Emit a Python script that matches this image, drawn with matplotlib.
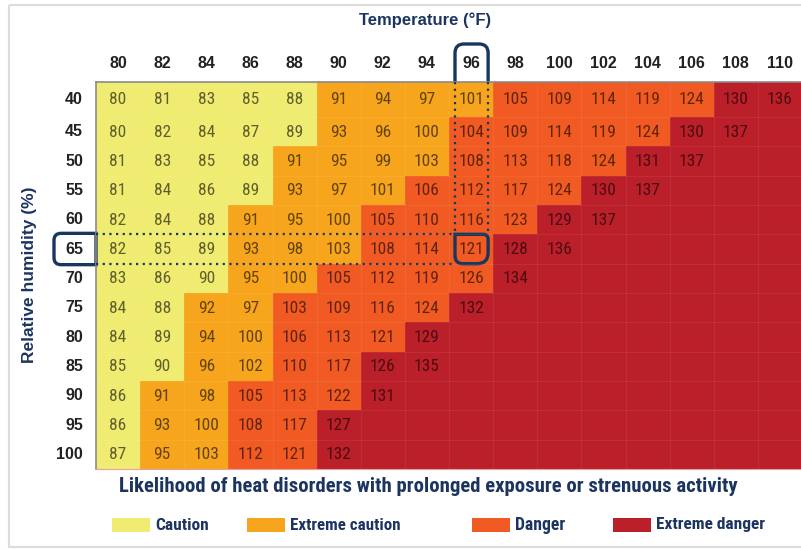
import numpy as np
import matplotlib.pyplot as plt
from matplotlib.patches import Rectangle, PathPatch
from matplotlib.path import Path
from matplotlib import font_manager

# heat index table (deg F)
temps = [80, 82, 84, 86, 88, 90, 92, 94, 96, 98, 100, 102, 104, 106, 108, 110]
humidity = [40, 45, 50, 55, 60, 65, 70, 75, 80, 85, 90, 95, 100]
heat_index = [
    [80, 81, 83, 85, 88, 91, 94, 97, 101, 105, 109, 114, 119, 124, 130, 136],
    [80, 82, 84, 87, 89, 93, 96, 100, 104, 109, 114, 119, 124, 130, 137],
    [81, 83, 85, 88, 91, 95, 99, 103, 108, 113, 118, 124, 131, 137],
    [81, 84, 86, 89, 93, 97, 101, 106, 112, 117, 124, 130, 137],
    [82, 84, 88, 91, 95, 100, 105, 110, 116, 123, 129, 137],
    [82, 85, 89, 93, 98, 103, 108, 114, 121, 128, 136],
    [83, 86, 90, 95, 100, 105, 112, 119, 126, 134],
    [84, 88, 92, 97, 103, 109, 116, 124, 132],
    [84, 89, 94, 100, 106, 113, 121, 129],
    [85, 90, 96, 102, 110, 117, 126, 135],
    [86, 91, 98, 105, 113, 122, 131],
    [86, 93, 100, 108, 117, 127],
    [87, 95, 103, 112, 121, 132],
]
# first column of each band, per humidity row
ext_caution_from = [5, 5, 4, 4, 3, 3, 3, 2, 2, 2, 1, 1, 1]
danger_from = [9, 8, 8, 7, 6, 6, 5, 4, 4, 4, 3, 3, 3]
ext_danger_from = [14, 13, 12, 11, 10, 9, 9, 8, 7, 6, 6, 5, 5]

levels = ['Caution', 'Extreme caution', 'Danger', 'Extreme danger']
level_colors = ['#F0EC72', '#F8A51E', '#F15A22', '#BB1F29']

highlight_temp = 96
highlight_rh = 65

navy = '#17375E'
title_col = '#1C3560'

installed = {f.name for f in font_manager.fontManager.ttflist}
cond = next((f for f in ['Roboto Condensed', 'Liberation Sans Narrow',
                         'Open Sans Condensed', 'Noto Sans Condensed']
             if f in installed), 'Roboto')
sans = ['Liberation Sans', 'DejaVu Sans']

W, H = 801, 550
fig = plt.figure(figsize=(W / 100, H / 100), dpi=100)
ax = fig.add_axes([0, 0, 1, 1])
ax.set_xlim(0, W)
ax.set_ylim(H, 0)
ax.axis('off')
renderer = fig.canvas.get_renderer()


def fit(t, width):
    # shrink/grow a text so it spans `width` pixels
    w = t.get_window_extent(renderer).width
    t.set_fontsize(t.get_fontsize() * width / w)


# grid geometry (pixels)
gx0, gx1 = 96, 802
cw = (gx1 - gx0) / len(temps)
gy0, first_bottom, gy1 = 82, 117, 469
rh_ = (gy1 - first_bottom) / (len(humidity) - 1)
row_edges = [gy0] + [first_bottom + k * rh_ for k in range(len(humidity))]


def band(i, j):
    if j >= ext_danger_from[i]:
        return 3
    if j >= danger_from[i]:
        return 2
    if j >= ext_caution_from[i]:
        return 1
    return 0


# outer frame
ax.add_patch(Rectangle((9, 5), 820, 542, fill=False, ec='#dddddd', lw=1.6))

for i, rh in enumerate(humidity):
    ytop, ybot = row_edges[i], row_edges[i + 1]
    for j, t in enumerate(temps):
        x = gx0 + j * cw
        ax.add_patch(Rectangle((x, ytop), cw, ybot - ytop,
                               fc=level_colors[band(i, j)], ec='none'))
        if j < len(heat_index[i]):
            ax.text(x + cw / 2, (ytop + ybot) / 2 + 0.5, str(heat_index[i][j]),
                    ha='center', va='center', fontsize=12.5, family=cond,
                    fontweight='normal', color='black', alpha=0.6)
    ax.text(83, (ytop + ybot) / 2, str(rh), ha='right', va='center',
            fontsize=11.5, fontweight='bold', family=sans, color='#222222')

for j, t in enumerate(temps):
    ax.text(gx0 + (j + 0.5) * cw, 64, str(t), ha='center', va='center',
            fontsize=11.5, fontweight='bold', family=sans, color='#222222')

# faint cell separators
for j in range(1, len(temps)):
    ax.plot([gx0 + j * cw] * 2, [gy0, gy1], color='white', lw=0.5, alpha=0.1)
for e in row_edges[1:-1]:
    ax.plot([gx0, gx1], [e, e], color='white', lw=0.5, alpha=0.1)

ax.plot([gx0, gx1], [gy0, gy0], color='#8a8a8a', lw=1.2)
ax.plot([gx0, gx0], [gy0, gy1], color='#8a8a8a', lw=1.2)
ax.plot([gx0, gx1], [gy1, gy1], color='#e8a0a0', lw=0.8)

# titles
ax.text(425, 20, 'Temperature (°F)', ha='center', va='center', fontsize=12,
        fontweight='bold', family=sans, color=title_col)
ax.text(30, 275, 'Relative humidity (%)', ha='center', va='center', fontsize=12.5,
        fontweight='bold', family=sans, color=title_col, rotation=90)
cap = ax.text(428, 487,
              'Likelihood of heat disorders with prolonged exposure or strenuous activity',
              ha='center', va='center', fontsize=13, fontweight='bold', family=cond,
              color=title_col)
fit(cap, 615)


def rpath(x0, y0, x1, y1, r, closed=True):
    # r = (top-left, top-right, bottom-right, bottom-left)
    tl, tr, br, bl = r
    v = [(x0, y1 - bl), (x0, y0 + tl), (x0, y0), (x0 + tl, y0),
         (x1 - tr, y0), (x1, y0), (x1, y0 + tr),
         (x1, y1 - br), (x1, y1), (x1 - br, y1),
         (x0 + bl, y1), (x0, y1), (x0, y1 - bl)]
    c = [Path.MOVETO, Path.LINETO, Path.CURVE3, Path.CURVE3,
         Path.LINETO, Path.CURVE3, Path.CURVE3,
         Path.LINETO, Path.CURVE3, Path.CURVE3,
         Path.LINETO, Path.CURVE3, Path.CURVE3]
    if not closed:
        v = [(x0, y1)] + v[1:7] + [(x1, y1)]
        c = c[:7] + [Path.LINETO]
    return Path(v, c)


# highlight of one reading
hj = temps.index(highlight_temp)
hi = humidity.index(highlight_rh)
hx0 = gx0 + hj * cw + 6
hx1 = gx0 + (hj + 1) * cw - 5
hy0, hy1 = row_edges[hi], row_edges[hi + 1]
dot = dict(color=navy, lw=1.6, ls=(0, (1, 2)))
ax.plot([hx0, hx0], [gy0, hy0], **dot)
ax.plot([hx1, hx1], [gy0, hy0], **dot)
ax.plot([gx0, hx0], [hy0, hy0], **dot)
ax.plot([gx0, hx0], [hy1, hy1], **dot)

ax.add_patch(PathPatch(rpath(hx0, 44, hx1, gy0, (9, 9, 0, 0), closed=False),
                       fill=False, ec=navy, lw=2.4))
ax.add_patch(PathPatch(rpath(54, hy0 - 1, gx0, hy1 + 1, (7, 0, 0, 7)),
                       fill=False, ec=navy, lw=2.4))
ax.add_patch(PathPatch(rpath(hx0, hy0, hx1, hy1, (0, 5, 11, 8)),
                       fill=False, ec=navy, lw=2.4))

# legend
leg_x = [112, 247, 472, 613]
leg_w = [53, 110, 50, 109]
for k, name in enumerate(levels):
    ax.add_patch(Rectangle((leg_x[k], 518), 38, 14, fc=level_colors[k], ec='none'))
    lt = ax.text(leg_x[k] + 43, 525, name, ha='left', va='center', fontsize=11,
                 fontweight='bold', family=cond, color=title_col)
    fit(lt, leg_w[k])

fig.savefig('out.png', dpi=100)
